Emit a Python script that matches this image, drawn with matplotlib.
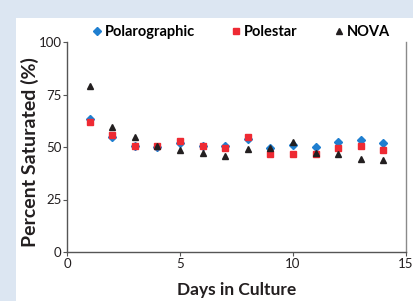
import matplotlib
matplotlib.use("Agg")
import matplotlib.pyplot as plt
from matplotlib.patches import Rectangle

days = [1, 2, 3, 4, 5, 6, 7, 8, 9, 10, 11, 12, 13, 14]
polarographic = [63.5, 55, 50.5, 49.8, 52, 50.5, 50.5, 53.8, 49.5, 51, 50, 52.2, 53.2, 51.9]
polestar = [61.9, 55.5, 50.6, 50.3, 52.7, 50.6, 49.5, 54.8, 46.5, 46.7, 46.7, 49.5, 50.6, 48.6]
nova = [79, 59.7, 54.9, 50.3, 48.6, 47.3, 45.5, 49, 49.7, 52.2, 47, 46.8, 44.1, 43.8]

x_ticks = [0, 5, 10, 15]
y_ticks = [0, 25, 50, 75, 100]

plt.rcParams['font.family'] = ['Lato', 'DejaVu Sans']

W, H = 413, 301
fig = plt.figure(figsize=(W / 100, H / 100), dpi=100)
fig.patch.set_facecolor('#dce6f2')
bg = fig.add_axes([16 / W, 0, 1 - 16 / W, 1 - 18 / H], zorder=-10)
bg.set_axis_off()
bg.add_patch(Rectangle((0, 0), 1, 1, transform=bg.transAxes, facecolor='white', edgecolor='none'))

ax = fig.add_axes([67 / W, (H - 252) / H, (406 - 67) / W, (252 - 42) / H])
ax.set_facecolor('white')
ax.set_xlim(0, 15)
ax.set_ylim(0, 100)

ax.plot(days, polarographic, linestyle='none', marker='D', markersize=3.8,
        color='#1f7fd0', label='Polarographic', zorder=3)
ax.plot(days, polestar, linestyle='none', marker='s', markersize=4.6,
        color='#ee2a33', label='Polestar', zorder=4)
ax.plot(days, nova, linestyle='none', marker='^', markersize=5,
        color='#231f20', label='NOVA', zorder=5)

ax.set_xticks(x_ticks)
ax.set_yticks(y_ticks)
ax.tick_params(direction='out', length=3, width=0.8, color='#555555',
               labelsize=9.5, labelcolor='#231f20', pad=1)
for s in ['left', 'bottom']:
    ax.spines[s].set_color('#555555')
    ax.spines[s].set_linewidth(1)
ax.spines['right'].set_color('#8a8a8a')
ax.spines['right'].set_linewidth(1)
ax.spines['top'].set_visible(False)

ax.set_xlabel('Days in Culture', fontsize=12.5, fontweight='bold', color='#231f20')
ax.set_ylabel('Percent Saturated (%)', fontsize=14, fontweight='bold', color='#231f20')
ax.xaxis.set_label_coords(0.5, -0.143)
ax.yaxis.set_label_coords(-0.082, 0.475)

leg = ax.legend(loc='lower center', bbox_to_anchor=(0.51, 0.976), ncol=3, frameon=False,
                handletextpad=0.05, columnspacing=2.3, borderaxespad=0.15,
                prop={'weight': 'bold', 'size': 10.5}, handlelength=1.0)

fig.savefig('out.png', dpi=100, facecolor=fig.get_facecolor())
